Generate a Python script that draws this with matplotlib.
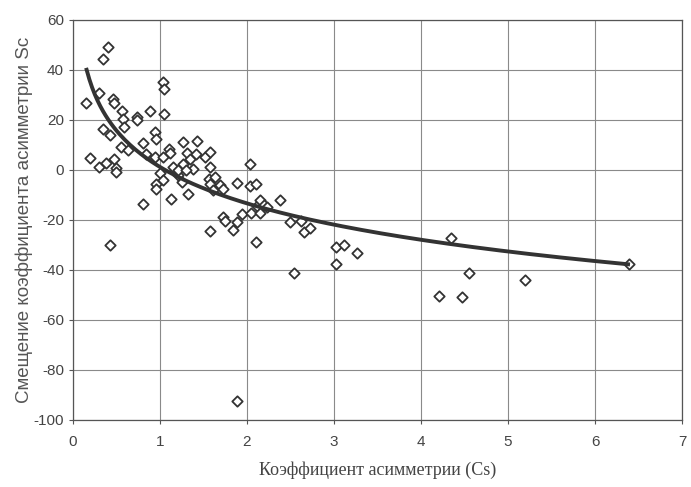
import numpy as np
import matplotlib
matplotlib.use("Agg")
import matplotlib.pyplot as plt

plt.rcParams["axes.unicode_minus"] = False

# scatter points (Cs, Sc)
cs = [0.15, 0.19, 0.30, 0.30, 0.34, 0.34, 0.38, 0.40, 0.42, 0.43,
      0.46, 0.47, 0.47, 0.49, 0.50, 0.55, 0.56, 0.57, 0.59, 0.63,
      0.74, 0.74, 0.80, 0.80, 0.84, 0.88, 0.94, 0.96, 0.94, 0.95,
      0.96, 1.00, 1.03, 1.05, 1.05, 1.04, 1.04, 1.10, 1.12, 1.13,
      1.15, 1.21, 1.25, 1.26, 1.27, 1.31, 1.32, 1.34, 1.38, 1.41,
      1.43, 1.52, 1.56, 1.57, 1.57, 1.57, 1.57, 1.61, 1.63, 1.69,
      1.73, 1.73, 1.75, 1.84, 1.88, 1.89, 1.89, 1.94, 2.03, 2.03,
      2.05, 2.10, 2.10, 2.11, 2.15, 2.15, 2.19, 2.23, 2.38, 2.50,
      2.54, 2.62, 2.65, 2.73, 3.02, 3.02, 3.11, 3.27, 4.21, 4.34,
      4.47, 4.55, 5.20, 6.39, 1.21, 1.30]
sc = [26.8, 4.7, 30.8, 1.3, 44.3, 16.3, 2.7, 49.0, -30.0, 14.0,
      28.3, 26.7, 4.3, 0.7, -0.8, 9.3, 23.6, 20.3, 17.2, 8.0,
      21.0, 20.0, 10.6, -13.6, 6.3, 23.6, 15.3, 12.3, 5.2, -5.8,
      -7.5, -1.3, 35.0, 32.2, 22.2, 5.3, -3.9, 8.2, 6.7, -11.8,
      1.3, -2.0, -4.7, 11.0, 2.2, 6.9, -9.7, 4.5, 0.3, 6.2,
      11.6, 5.3, -3.5, 7.3, 1.2, -5.6, -24.3, -8.0, -2.9, -6.0,
      -7.8, -18.9, -20.4, -24.1, -92.3, -5.1, -21.0, -17.6, 2.5, -6.4,
      -17.3, -5.5, -28.9, -14.5, -12.0, -17.3, -14.0, -14.8, -12.0, -20.7,
      -41.3, -20.4, -24.9, -23.3, -30.9, -37.6, -29.9, -33.3, -50.4, -27.4,
      -51.0, -41.3, -44.0, -37.6, 0.0, 0.0]

# logarithmic trend line: Sc = a - b*ln(Cs)
trend_a = 1.2
trend_b = 21.0
trend_x_min = 0.157
trend_x_max = 6.38

fig = plt.figure(figsize=(6.91, 4.87), dpi=100)
ax = fig.add_axes([0.1056, 0.1376, 0.8814, 0.8214])

ax.grid(True, color="#8a8a8a", linewidth=0.8)
ax.set_axisbelow(True)

ax.scatter(cs, sc, marker="D", s=28, facecolors="white",
           edgecolors="#333333", linewidths=1.3, zorder=3)

tx = np.linspace(trend_x_min, trend_x_max, 200)
ax.plot(tx, trend_a - trend_b * np.log(tx), color="#333333", linewidth=2.8, zorder=4)

ax.set_xlim(0, 7)
ax.set_ylim(-100, 60)
ax.set_xticks(range(0, 8))
ax.set_yticks(range(-100, 61, 20))
for s in ax.spines.values():
    s.set_color("#555555")
    s.set_linewidth(0.9)
ax.tick_params(colors="#555555", labelcolor="#444444", labelsize=11,
               length=3, width=0.8)
for lab in ax.get_xticklabels() + ax.get_yticklabels():
    lab.set_family("Liberation Sans")
ax.tick_params(axis="x", pad=8)

ax.set_xlabel("Коэффициент асимметрии (Cs)", family="Liberation Serif",
              fontsize=13, color="#444444", labelpad=9)
ax.set_ylabel("Смещение коэффициента асимметрии Sc", family="Liberation Sans",
              fontsize=13.5, color="#555555", labelpad=0)

fig.savefig("out.png", dpi=100)
